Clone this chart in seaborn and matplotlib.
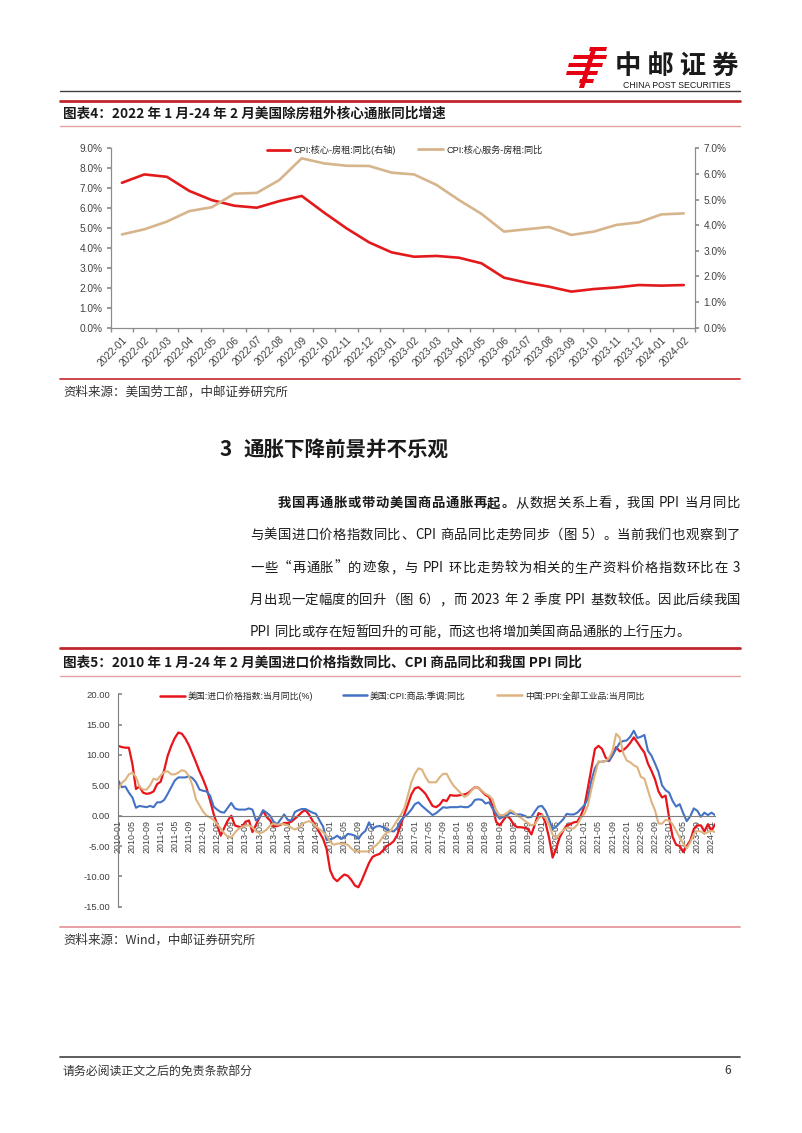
import re
import numpy as np
import pandas as pd
import matplotlib
matplotlib.use("Agg")
import matplotlib.pyplot as plt
import seaborn as sns
from matplotlib.lines import Line2D
from matplotlib.patches import Polygon

# ---------------- data: chart 1 ----------------
months_1 = ["2022-01", "2022-02", "2022-03", "2022-04", "2022-05", "2022-06",
            "2022-07", "2022-08", "2022-09", "2022-10", "2022-11", "2022-12",
            "2023-01", "2023-02", "2023-03", "2023-04", "2023-05", "2023-06",
            "2023-07", "2023-08", "2023-09", "2023-10", "2023-11", "2023-12",
            "2024-01", "2024-02"]
core_less_rent = [7.27, 7.69, 7.57, 6.86, 6.40, 6.12, 6.02, 6.35, 6.61, 5.77,
                  4.98, 4.28, 3.78, 3.56, 3.60, 3.51, 3.23, 2.51, 2.26, 2.06,
                  1.81, 1.94, 2.02, 2.14, 2.11, 2.14]
services_less_rent = [3.64, 3.84, 4.14, 4.55, 4.70, 5.23, 5.26, 5.76, 6.61, 6.41,
                      6.32, 6.31, 6.05, 5.98, 5.57, 4.98, 4.44, 3.75, 3.84, 3.93,
                      3.62, 3.75, 4.01, 4.11, 4.42, 4.46]
label_1a = "CPI:核心-房租:同比(右轴)"
label_1b = "CPI:核心服务-房租:同比"
yticks_left_1 = [0, 1, 2, 3, 4, 5, 6, 7, 8, 9]
yticks_right_1 = [0, 1, 2, 3, 4, 5, 6, 7]

# ---------------- data: chart 2 ----------------
months_2 = pd.date_range("2010-01-01", "2024-02-01", freq="MS").strftime("%Y-%m").tolist()
us_import_price = [
    11.5, 11.3, 11.2, 11.2, 8.5, 4.4, 4.8, 3.8, 3.6, 3.7, 4.0, 5.2,
    5.6, 7.5, 9.9, 11.5, 12.8, 13.7, 13.5, 12.7, 11.6, 10.2, 8.8, 7.3,
    6.0, 4.5, 2.5, 0.3, -1.5, -3.3, -2.0, -0.8, 0.0, -1.6, -1.8, -1.9,
    -1.0, -0.8, -2.7, -1.5, -0.3, 0.8, -0.2, -0.8, -1.8, -1.7, -1.5, -1.2,
    -1.2, -1.0, -0.5, 0.0, 0.6, 0.9, 0.2, -0.8, -1.8, -2.8, -3.8, -5.5,
    -9.0, -10.3, -10.8, -10.2, -9.7, -9.9, -10.6, -11.5, -11.8, -10.6, -9.2, -7.8,
    -6.8, -6.5, -6.3, -5.7, -5.0, -4.7, -4.2, -3.2, -1.5, 0.2, 1.8, 3.5,
    4.5, 4.7, 4.2, 3.6, 2.6, 1.6, 1.4, 1.8, 2.6, 2.4, 3.4, 3.3,
    3.3, 3.4, 3.5, 3.7, 4.2, 4.7, 4.6, 4.0, 3.4, 3.1, 1.6, -1.0,
    -1.6, -0.8, 0.0, -0.5, -1.5, -1.9, -1.9, -2.0, -2.2, -3.1, -1.4, 0.4,
    0.2, -1.2, -3.6, -6.9, -5.5, -3.6, -2.5, -1.6, -1.4, -1.1, -1.0, 0.0,
    1.5, 4.6, 7.8, 11.0, 11.5, 11.0, 9.6, 9.0, 10.0, 11.3, 10.6, 10.8,
    11.3, 12.0, 12.9, 12.1, 11.2, 10.4, 8.6, 7.4, 6.0, 4.0, 3.0, 3.3,
    -0.3, -3.5, -4.8, -5.0, -6.0, -5.0, -4.1, -2.2, -1.6, -1.6, -2.6, -1.4,
    -2.5, -1.4]
us_cpi_goods = [
    5.8, 4.7, 4.8, 3.8, 3.0, 1.3, 1.6, 1.5, 1.4, 1.6, 1.4, 2.2,
    2.2, 2.6, 3.6, 4.7, 5.8, 6.3, 6.3, 6.3, 6.5, 6.2, 5.5, 4.3,
    4.1, 4.0, 3.3, 1.5, 1.0, 0.6, 0.5, 1.3, 2.1, 1.2, 1.0, 1.0,
    1.0, 1.2, 1.0, -0.8, -0.3, 0.9, 0.5, 0.0, -1.0, -1.4, -0.6, 0.2,
    -0.7, -0.8, 0.6, 0.9, 1.1, 1.1, 0.8, 0.5, 0.3, -0.8, -1.8, -4.0,
    -3.9, -3.7, -3.3, -3.8, -3.6, -3.0, -3.1, -3.3, -3.8, -3.0, -2.5, -1.1,
    -2.2, -1.8, -1.7, -1.9, -2.3, -2.5, -2.6, -2.0, -0.8, -0.2, 0.3, 1.0,
    1.9, 2.2, 1.6, 1.1, 0.6, 0.1, 0.4, 0.9, 1.4, 1.3, 1.4, 1.4,
    1.4, 1.5, 1.4, 1.4, 1.8, 2.6, 2.7, 2.6, 2.0, 2.2, 1.2, 0.3,
    -0.5, -0.2, 0.0, 0.5, 0.3, 0.2, 0.2, 0.0, -0.3, -0.2, 0.7, 1.5,
    1.6, 0.8, -0.6, -2.2, -1.8, -1.2, -0.6, 0.3, 0.2, 0.2, 0.5, 1.1,
    1.7, 2.8, 5.8, 7.8, 8.8, 8.9, 9.0, 9.1, 10.0, 11.0, 12.0, 12.3,
    12.4, 13.0, 14.0, 12.8, 13.0, 13.3, 10.7, 9.9, 8.6, 7.2, 5.0, 4.2,
    3.8, 2.4, 1.5, 1.9, 0.4, -0.9, -0.1, 1.2, 0.8, -0.2, 0.5, 0.1,
    0.5, 0.1]
china_ppi = [
    4.3, 5.4, 5.9, 6.8, 7.1, 6.4, 4.8, 4.3, 4.3, 5.0, 6.1, 5.9,
    6.6, 7.2, 7.3, 6.8, 6.8, 7.1, 7.5, 7.3, 6.5, 5.0, 2.7, 1.7,
    0.7, 0.0, -0.3, -0.7, -1.4, -2.1, -2.9, -3.5, -3.6, -2.8, -2.2, -1.9,
    -1.6, -1.6, -1.9, -2.6, -2.9, -2.7, -2.3, -1.6, -1.3, -1.5, -1.4, -1.4,
    -1.6, -2.0, -2.3, -2.0, -1.4, -1.1, -0.9, -1.2, -1.8, -2.2, -2.7, -3.3,
    -4.3, -4.8, -4.6, -4.6, -4.6, -4.8, -5.4, -5.9, -5.9, -5.9, -5.9, -5.9,
    -5.3, -4.9, -4.3, -3.4, -2.8, -2.6, -1.7, -0.8, 0.1, 1.2, 3.3, 5.5,
    6.9, 7.8, 7.6, 6.4, 5.5, 5.5, 5.5, 6.3, 6.9, 6.9, 5.8, 4.9,
    4.3, 3.7, 3.1, 3.4, 4.1, 4.7, 4.6, 4.1, 3.6, 3.3, 2.7, 0.9,
    0.1, 0.1, 0.4, 0.9, 0.6, 0.0, -0.3, -0.8, -1.2, -1.6, -1.4, -0.5,
    0.1, -0.4, -1.5, -3.1, -3.7, -3.0, -2.4, -2.0, -2.1, -2.1, -1.5, -0.4,
    0.3, 1.7, 4.4, 6.8, 9.0, 8.8, 9.0, 9.5, 10.7, 13.5, 12.9, 10.3,
    9.1, 8.8, 8.3, 8.0, 6.4, 6.1, 4.2, 2.3, 0.9, -1.3, -1.3, -0.7,
    -0.8, -1.4, -2.5, -3.6, -4.6, -5.4, -4.4, -3.0, -2.5, -2.6, -3.0, -2.7,
    -2.5, -2.7]
label_2a = "美国:进口价格指数:当月同比(%)"
label_2b = "美国:CPI:商品:季调:同比"
label_2c = "中国:PPI:全部工业品:当月同比"
yticks_2 = [-15, -10, -5, 0, 5, 10, 15, 20]

# ---------------- page texts ----------------
title_4 = "图表4：2022 年 1 月-24 年 2 月美国除房租外核心通胀同比增速"
source_4 = "资料来源：美国劳工部，中邮证券研究所"
heading_num = "3"
heading_3 = "通胀下降前景并不乐观"
para_lines = [
    [("我国再通胀或带动美国商品通胀再起。", "bold"), ("从数据关系上看，我国 PPI 当月同比", "normal")],
    [("与美国进口价格指数同比、CPI 商品同比走势同步（图 5）。当前我们也观察到了", "normal")],
    [("一些“再通胀”的迹象，与 PPI 环比走势较为相关的生产资料价格指数环比在 3", "normal")],
    [("月出现一定幅度的回升（图 6），而 2023 年 2 季度 PPI 基数较低。因此后续我国", "normal")],
    [("PPI 同比或存在短暂回升的可能，而这也将增加美国商品通胀的上行压力。", "normal")],
]
title_5 = "图表5：2010 年 1 月-24 年 2 月美国进口价格指数同比、CPI 商品同比和我国 PPI 同比"
source_5 = "资料来源：Wind，中邮证券研究所"
footer = "请务必阅读正文之后的免责条款部分"
page_no = "6"

# ---------------- style ----------------
sns.set_theme(style="white")
plt.rcParams["font.family"] = ["Liberation Sans", "Noto Sans CJK SC", "DejaVu Sans"]
CJK = ["Noto Sans CJK SC", "DejaVu Sans"]

W, H = 802, 1133
fig = plt.figure(figsize=(W / 100, H / 100), dpi=100)
fig.patch.set_facecolor("white")

RED1 = "#E31A1C"
TAN1 = "#D6B58C"
RED2 = "#E8141B"
BLUE2 = "#4472C4"
TAN2 = "#DDB47F"
TICK_C = "#404040"
SPINE_C = "#8C8C8C"


def fx(x):
    return x / W


def fy(y):
    return 1 - y / H


def hline(y, x0, x1, color, lw):
    fig.add_artist(Line2D([fx(x0), fx(x1)], [fy(y), fy(y)], color=color, lw=lw,
                          transform=fig.transFigure))


def ftext(x, y, s, **kw):
    kw.setdefault("va", "center")
    kw.setdefault("family", CJK)
    return fig.text(fx(x), fy(y), s, **kw)


def legend_at(x, y, color, label, fs, lw, hl_px, pad_px):
    em = fs * 100 / 72
    fig.legend(handles=[Line2D([], [], color=color, lw=lw)], labels=[label],
               loc="center left", bbox_to_anchor=(fx(x), fy(y)), frameon=False,
               prop={"family": ["Liberation Sans", "Noto Sans CJK SC"], "size": fs},
               handlelength=hl_px / em, handletextpad=pad_px / em,
               borderpad=0, borderaxespad=0)


# ---------------- header / logo ----------------
def poly(pts, color):
    fig.add_artist(Polygon([(fx(a), fy(b)) for a, b in pts], closed=True,
                           facecolor=color, edgecolor="none",
                           transform=fig.transFigure))


LOGO_RED = "#E60012"
poly([(590, 47), (607, 47), (606, 51), (589, 51)], LOGO_RED)
poly([(574, 55), (607, 55), (606, 59), (573, 59)], LOGO_RED)
poly([(569, 63), (603, 63), (602, 67), (568, 67)], LOGO_RED)
poly([(567, 71), (598, 71), (597, 75), (566, 75)], LOGO_RED)
poly([(580, 79), (594, 79), (593, 83), (579, 83)], LOGO_RED)
poly([(592, 47), (597, 47), (584, 88), (579, 88)], LOGO_RED)
ftext(677, 66, "中 邮 证 券", fontsize=19, weight="bold", color="#1A1A1A", ha="center")
ftext(677, 86, "CHINA POST SECURITIES", fontsize=6.3, color="#1A1A1A", ha="center",
      family=["Liberation Sans"])
hline(91, 60, 740, "#404040", 1.0)

# ---------------- chart 1 block ----------------
hline(101, 60, 740, "#C0272D", 2.0)
ftext(63, 113.5, title_4, fontsize=9.8, weight="bold", color="#1A1A1A")
hline(126, 60, 740, "#E6A1A4", 1.0)

ax1 = fig.add_axes([fx(110.7), fy(327.7), (695 - 110.7) / W, (327.7 - 148.3) / H])
x1 = np.arange(len(months_1))
sns.lineplot(x=x1, y=core_less_rent, ax=ax1, color=RED1, lw=1.9)
ax1.set_xlim(-0.5, len(months_1) - 0.5)
ax1.set_ylim(0, 9)
ax1.set_yticks(yticks_left_1)
ax1.set_yticklabels([f"{v:.1f}%" for v in yticks_left_1])
ax1.set_xticks(x1)
ax1.set_xticklabels(months_1, rotation=45, ha="right", rotation_mode="anchor")
ax1.set_xticks(np.arange(-0.5, len(months_1)), minor=True)
ax1.tick_params(axis="x", which="major", length=0, pad=5, labelsize=7.2, colors=TICK_C)
ax1.tick_params(axis="x", which="minor", length=3, color=SPINE_C, bottom=True)
ax1.tick_params(axis="y", length=3, color=SPINE_C, left=True, labelsize=7.3,
                colors=TICK_C, pad=3)
ax1.set_xlabel("")
ax1.set_ylabel("")

ax1r = ax1.twinx()
sns.lineplot(x=x1, y=services_less_rent, ax=ax1r, color=TAN1, lw=1.9)
ax1r.set_ylim(0, 7)
ax1r.set_yticks(yticks_right_1)
ax1r.set_yticklabels([f"{v:.1f}%" for v in yticks_right_1])
ax1r.tick_params(axis="y", length=3, color=SPINE_C, right=True, labelsize=7.3,
                 colors=TICK_C, pad=3)
ax1r.set_ylabel("")
for a in (ax1, ax1r):
    a.set_facecolor("none")
    a.grid(False)
    a.spines["top"].set_visible(False)
    for s in ("left", "right", "bottom"):
        a.spines[s].set_color(SPINE_C)
        a.spines[s].set_linewidth(0.8)

legend_at(267, 150, RED1, label_1a, 6.6, 2.0, 23, 4)
legend_at(418, 150, TAN1, label_1b, 6.6, 2.0, 25, 4)

hline(379, 60, 740, "#C8383D", 1.3)
ftext(63, 392, source_4, fontsize=9.0, color="#333333")

# ---------------- section text ----------------
ftext(220, 450, heading_num, fontsize=15, weight="bold", color="#1A1A1A")
ftext(243, 450, heading_3, fontsize=14.8, weight="bold", color="#1A1A1A")

renderer = fig.canvas.get_renderer()


def measure(tok, fs, weight):
    t = fig.text(0, 0, tok, fontsize=fs, weight=weight, family=CJK)
    w = t.get_window_extent(renderer).width
    t.remove()
    return w


def justify_line(y, x0, x1, pieces, fs, justify=True):
    toks = []
    for text, weight in pieces:
        for tok in re.findall(r"[A-Za-z0-9%.\-]+|\s+|.", text):
            toks.append((tok, weight))
    widths = []
    for tok, weight in toks:
        if tok.isspace():
            widths.append(0.28 * fs * 100 / 72)
        else:
            widths.append(measure(tok, fs, weight))
    total = sum(widths)
    gap = (x1 - x0 - total) / (len(toks) - 1) if justify else 0.0
    x = x0
    for (tok, weight), w in zip(toks, widths):
        if not tok.isspace():
            ftext(x, y, tok, fontsize=fs, weight=weight, color="#1A1A1A", ha="left")
        x += w + gap


para_y = [503, 535, 568, 600, 632]
for i, (yy, pieces) in enumerate(zip(para_y, para_lines)):
    x_start = 278 if i == 0 else 250
    justify_line(yy, x_start, 740, pieces, 9.6, justify=(i < 4))

# ---------------- chart 2 block ----------------
hline(648, 60, 740, "#C0272D", 2.0)
ftext(63, 662, title_5, fontsize=9.8, weight="bold", color="#1A1A1A")
hline(676, 60, 740, "#E6A1A4", 1.0)

ax2 = fig.add_axes([fx(118.3), fy(906.7), (715 - 118.3) / W, (906.7 - 694.3) / H])
ax2.spines["bottom"].set_position(("data", 0))
x2 = np.arange(len(months_2))
sns.lineplot(x=x2, y=us_import_price, ax=ax2, color=RED2, lw=1.6)
sns.lineplot(x=x2, y=us_cpi_goods, ax=ax2, color=BLUE2, lw=1.5)
sns.lineplot(x=x2, y=china_ppi, ax=ax2, color=TAN2, lw=1.5)
ax2.set_xlim(0, len(months_2) - 1)
ax2.set_ylim(-15, 20)
ax2.set_yticks(yticks_2)
ax2.set_yticklabels([f"{v:.2f}" for v in yticks_2])
ax2.set_xticks(x2[::4])
ax2.set_xticklabels(months_2[::4])
ax2.tick_params(axis="x", length=0, pad=3, labelsize=6.4, colors=TICK_C,
                labelrotation=90)
ax2.tick_params(axis="y", length=3, direction="in", color=SPINE_C, left=True,
                labelsize=6.8, colors=TICK_C, pad=6)
ax2.set_xlabel("")
ax2.set_ylabel("")
ax2.set_facecolor("none")
ax2.grid(False)
ax2.spines["top"].set_visible(False)
ax2.spines["right"].set_visible(False)
for s in ("left", "bottom"):
    ax2.spines[s].set_color("#7F7F7F")
    ax2.spines[s].set_linewidth(0.8)

legend_at(160, 696, RED2, label_2a, 6.4, 1.8, 25, 3)
legend_at(343, 696, BLUE2, label_2b, 6.4, 1.8, 24, 3)
legend_at(497, 696, TAN2, label_2c, 6.4, 1.8, 25, 3)

hline(927, 60, 740, "#E08F93", 1.2)
ftext(63, 940, source_5, fontsize=9.0, color="#333333")

# ---------------- footer ----------------
hline(1057, 60, 740, "#505050", 1.3)
ftext(63, 1071, footer, fontsize=8.6, color="#333333")
ftext(724, 1071, page_no, fontsize=8.6, color="#333333")

fig.savefig("out.png", dpi=100, facecolor="white")
